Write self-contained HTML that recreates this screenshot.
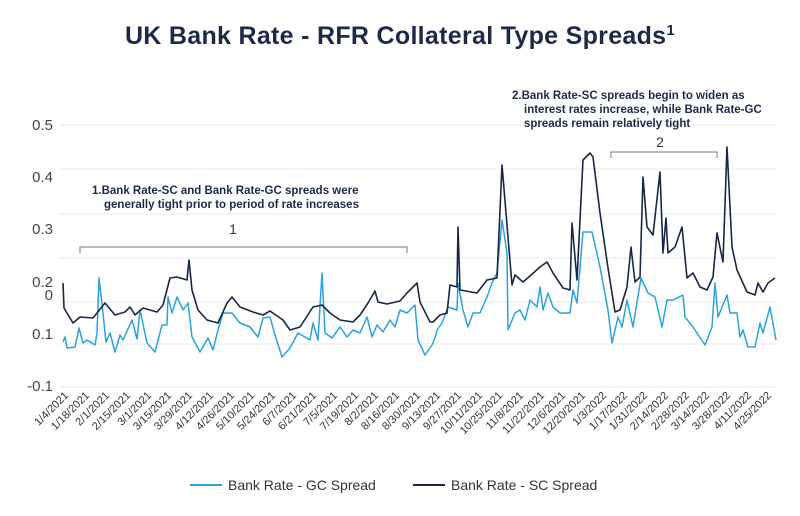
<!DOCTYPE html>
<html><head><meta charset="utf-8"><style>
body{margin:0;background:#fff;width:800px;height:511px;overflow:hidden;font-family:"Liberation Sans",sans-serif;}
</style></head><body>
<svg width="800" height="511" viewBox="0 0 800 511" xmlns="http://www.w3.org/2000/svg" font-family="Liberation Sans, sans-serif">
<text x="400" y="44" text-anchor="middle" font-size="25" fill="#1c2a48" font-weight="bold" letter-spacing="0.3">UK Bank Rate - RFR Collateral Type Spreads<tspan font-size="15" dy="-9">1</tspan></text>
<g stroke="#e8e8e8" stroke-width="1">
<line x1="60" y1="125" x2="776" y2="125"/><line x1="60" y1="169" x2="776" y2="169"/>
<line x1="60" y1="214" x2="776" y2="214"/><line x1="60" y1="258" x2="776" y2="258"/>
<line x1="60" y1="302" x2="776" y2="302"/><line x1="60" y1="344" x2="776" y2="344"/>
<line x1="60" y1="387" x2="776" y2="387"/>
</g>
<g font-size="15" fill="#444" text-anchor="end">
<text x="53" y="130">0.5</text><text x="53" y="182">0.4</text><text x="53" y="234">0.3</text>
<text x="53" y="287">0.2</text><text x="53" y="300">0</text><text x="53" y="339">0.1</text><text x="53" y="391">-0.1</text>
</g>
<g font-size="11.5" fill="#1c2a48" font-weight="bold">
<text x="92" y="194">1.Bank Rate-SC and Bank Rate-GC spreads were</text>
<text x="104" y="208">generally tight prior to period of rate increases</text>
<text x="512" y="99">2.Bank Rate-SC spreads begin to widen as</text>
<text x="524" y="113">interest rates increase, while Bank Rate-GC</text>
<text x="524" y="127">spreads remain relatively tight</text>
</g>
<text x="233" y="234" font-size="14" fill="#333" text-anchor="middle">1</text>
<text x="660" y="147" font-size="14" fill="#333" text-anchor="middle">2</text>
<path d="M80,253 V247 H407 V253" fill="none" stroke="#777" stroke-width="1"/>
<path d="M611,158 V152 H717 V158" fill="none" stroke="#777" stroke-width="1"/>
<polyline fill="none" stroke="#2aa3dc" stroke-width="1.5" stroke-linejoin="round" points="63,342 65,337 67,348 75,347 79,328 83,343 87,340 95,345 97,333 99,278 103,313 106,342 110,333 115,352 120,335 123,340 132,320 137,339 140,310 147,343 155,352 162,325 167,325 168,297 172,313 177,297 183,310 188,303 192,337 200,352 208,338 213,350 218,330 223,313 232,313 240,323 250,327 258,337 263,318 270,317 275,335 282,357 290,348 298,333 310,340 313,323 318,340 322,273 325,333 332,338 340,327 347,337 353,330 360,333 367,317 372,337 377,325 383,332 390,320 395,327 400,310 407,313 415,305 418,340 425,355 432,345 435,338 437,330 442,323 448,307 457,310 458,283 463,310 468,327 473,313 480,313 487,297 492,283 497,273 502,220 507,253 508,330 515,313 520,310 525,320 530,300 537,307 540,287 543,310 548,293 553,307 560,313 570,313 573,290 577,303 583,232 592,232 600,267 608,310 612,343 618,317 622,327 627,300 633,327 641,278 648,293 655,297 662,327 667,300 673,300 683,295 685,317 693,327 705,345 712,327 715,283 718,317 727,295 730,313 737,313 740,337 743,330 748,347 755,347 760,323 763,333 770,307 776,340"/>
<polyline fill="none" stroke="#1a2744" stroke-width="1.6" stroke-linejoin="round" points="63,283 64,308 73,323 80,317 93,318 105,303 115,315 125,312 130,307 135,315 143,308 157,312 163,305 170,278 177,277 187,280 189,260 192,290 198,310 207,320 218,323 227,303 232,297 240,307 253,312 263,315 270,311 283,320 290,330 300,327 313,307 322,305 330,313 340,320 353,322 360,315 368,303 375,291 378,302 387,304 400,301 407,293 417,283 420,302 430,322 433,322 440,315 447,313 450,285 457,287 458,227 460,290 477,293 487,280 497,278 502,165 508,237 512,285 515,275 523,282 530,276 540,267 547,262 553,273 563,288 570,290 572,223 577,280 583,160 590,153 593,157 600,213 608,268 615,312 620,310 627,287 631,247 635,282 640,277 643,177 647,227 653,235 660,172 663,253 666,218 668,253 675,247 682,227 687,278 693,273 700,287 707,290 713,277 717,233 723,262 727,147 732,247 737,270 747,292 755,295 758,283 763,292 768,283 775,278"/>
<g font-size="11" fill="#333" text-anchor="end">
<text transform="translate(69,396) rotate(-45)">1/4/2021</text>
<text transform="translate(90,396) rotate(-45)">1/18/2021</text>
<text transform="translate(110,396) rotate(-45)">2/1/2021</text>
<text transform="translate(131,396) rotate(-45)">2/15/2021</text>
<text transform="translate(152,396) rotate(-45)">3/1/2021</text>
<text transform="translate(172,396) rotate(-45)">3/15/2021</text>
<text transform="translate(193,396) rotate(-45)">3/29/2021</text>
<text transform="translate(214,396) rotate(-45)">4/12/2021</text>
<text transform="translate(235,396) rotate(-45)">4/26/2021</text>
<text transform="translate(255,396) rotate(-45)">5/10/2021</text>
<text transform="translate(276,396) rotate(-45)">5/24/2021</text>
<text transform="translate(297,396) rotate(-45)">6/7/2021</text>
<text transform="translate(317,396) rotate(-45)">6/21/2021</text>
<text transform="translate(338,396) rotate(-45)">7/5/2021</text>
<text transform="translate(359,396) rotate(-45)">7/19/2021</text>
<text transform="translate(379,396) rotate(-45)">8/2/2021</text>
<text transform="translate(400,396) rotate(-45)">8/16/2021</text>
<text transform="translate(421,396) rotate(-45)">8/30/2021</text>
<text transform="translate(441,396) rotate(-45)">9/13/2021</text>
<text transform="translate(462,396) rotate(-45)">9/27/2021</text>
<text transform="translate(483,396) rotate(-45)">10/11/2021</text>
<text transform="translate(503,396) rotate(-45)">10/25/2021</text>
<text transform="translate(524,396) rotate(-45)">11/8/2021</text>
<text transform="translate(545,396) rotate(-45)">11/22/2021</text>
<text transform="translate(566,396) rotate(-45)">12/6/2021</text>
<text transform="translate(586,396) rotate(-45)">12/20/2021</text>
<text transform="translate(607,396) rotate(-45)">1/3/2022</text>
<text transform="translate(628,396) rotate(-45)">1/17/2022</text>
<text transform="translate(648,396) rotate(-45)">1/31/2022</text>
<text transform="translate(669,396) rotate(-45)">2/14/2022</text>
<text transform="translate(690,396) rotate(-45)">2/28/2022</text>
<text transform="translate(710,396) rotate(-45)">3/14/2022</text>
<text transform="translate(731,396) rotate(-45)">3/28/2022</text>
<text transform="translate(752,396) rotate(-45)">4/11/2022</text>
<text transform="translate(772,396) rotate(-45)">4/25/2022</text>
</g>
<line x1="190" y1="485" x2="222" y2="485" stroke="#2aa3dc" stroke-width="2"/>
<text x="228" y="490" font-size="14" fill="#333">Bank Rate - GC Spread</text>
<line x1="413" y1="485" x2="445" y2="485" stroke="#1a2744" stroke-width="2"/>
<text x="451" y="490" font-size="14" fill="#333">Bank Rate - SC Spread</text>
</svg>
</body></html>
